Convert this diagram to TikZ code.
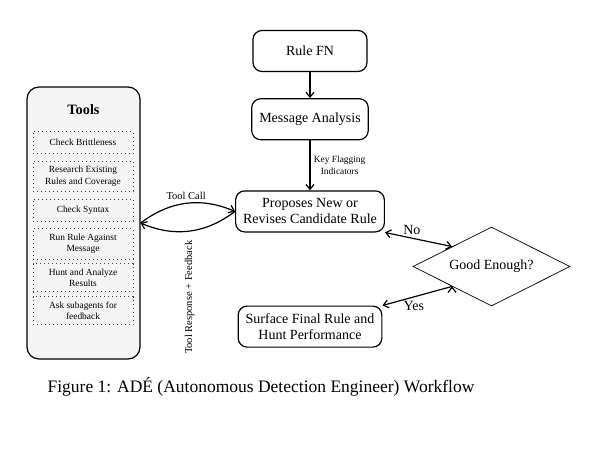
\documentclass[tikz,border=0pt]{standalone}
\usepackage{fontspec}
\setmainfont{Liberation Serif}
\usetikzlibrary{positioning, shapes.geometric, arrows.meta}

\begin{document}
\begin{tikzpicture}[x=1pt, y=-1pt,
        font=\fontsize{14}{16}\selectfont,
        >={Straight Barb[length=5pt, width=8pt]},
        block/.style={draw, rounded corners=9pt, line width=1.2pt,
            minimum width=114pt, minimum height=41pt,
            inner xsep=7.5pt, align=center},
        toolitem/.style={draw=black!75, dash pattern=on 0.8pt off 3.2pt,
            line width=0.8pt, minimum width=100pt, minimum height=22pt,
            inner xsep=5pt, inner ysep=5pt, align=center,
            font=\fontsize{9.4}{11.5}\selectfont},
        flow/.style={->, line width=1.2pt},
        small/.style={font=\fontsize{9.4}{11.5}\selectfont, align=center}]
    \useasboundingbox (0,0) rectangle (596,461);

    % Main column
        \node[block] (rulefn) at (310,51) {Rule FN};
        \node[block,
            below=26pt of rulefn] (analysis) {Message Analysis};
        \node[block,
            below=50pt of analysis] (propose) {Proposes New or\\Revises Candidate Rule};
        \node[block,
            below=73pt of propose] (surface) {Surface Final Rule and\\Hunt Performance};
        \node[diamond,
            draw,
            line width=0.7pt,
            aspect=2,
            minimum width=157pt,
            minimum height=79pt,
            inner sep=1pt] (good) at (491.5,266.5) {Good Enough?};

    % Tools panel
        \node[draw,
            rounded corners=12pt,
            line width=1.2pt,
            fill=black!4,
            minimum width=113pt,
            minimum height=272pt] (tools) at (83.5,223) {};
        \node[font=\fontsize{14.3}{16}\selectfont\bfseries] (toolstitle) at (83.5,110) {Tools};
        \node[toolitem] (brittle) at (83,142.4) {Check Brittleness};
        \node[toolitem,
            below=7pt of brittle] (research) {Research Existing\\Rules and Coverage};
        \node[toolitem,
            below=7pt of research] (syntax) {Check Syntax};
        \node[toolitem,
            below=7pt of syntax] (runrule) {Run Rule Against\\Message};
        \node[toolitem,
            below=4pt of runrule] (hunt) {Hunt and Analyze\\Results};
        \node[toolitem,
            below=4pt of hunt] (subagents) {Ask subagents for\\feedback};

    % Caption
        \node[font=\fontsize{17.5}{20}\selectfont] (caption) at (261,387)
            {Figure 1: ADÉ (Autonomous Detection Engineer) Workflow};

       \draw[flow]
            (rulefn) edge (analysis)
            (analysis) edge node[right, small] {Key Flagging\\Indicators} (propose)
            (tools.east) edge[bend left=30] node[above, font=\fontsize{10.5}{12}\selectfont] {Tool Call} (propose.west)
            (propose.west) edge[bend left=30] node[midway, rotate=90, anchor=east, inner sep=9pt,
                font=\fontsize{10.5}{12}\selectfont] {Tool Response + Feedback} (tools.east)
            (propose.south east) edge[<->] node[pos=0.4, above] {No} (good.north west)
            (good.south west) edge node[pos=0.55, below] {Yes} (surface.north east)
            ;
    \end{tikzpicture}
\end{document}
